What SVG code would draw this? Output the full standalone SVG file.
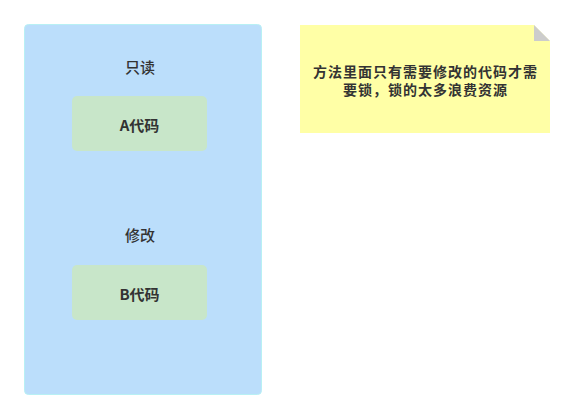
<svg xmlns="http://www.w3.org/2000/svg" width="575" height="419" viewBox="0 0 575 419">
<style>
text{font-family:"Noto Sans CJK SC","Liberation Sans",sans-serif;fill:#333;text-anchor:middle;dominant-baseline:central}
.code{fill:#c8e6c9;stroke:none}
.b{font-weight:bold;font-size:15px}
.lbl{font-size:15px;font-weight:500}
.note{font-size:14px;font-weight:bold;letter-spacing:1px}
</style>
<rect width="575" height="419" fill="#fff"/>
<g id="container">
<rect x="24.5" y="24.5" width="237" height="370" rx="4" fill="#bbdefb" stroke="#b8f0f4" stroke-width="1"/>
<text class="lbl" x="140" y="66.5">只读</text>
<text class="lbl" x="140" y="234">修改</text>
</g>
<g id="nodeA">
<rect class="code" x="72" y="96" width="135" height="55" rx="5"/>
<text class="b" x="139.5" y="124.5">A代码</text>
</g>
<g id="nodeB">
<rect class="code" x="72" y="265" width="135" height="55" rx="5"/>
<text class="b" x="139.5" y="293.5">B代码</text>
</g>
<g id="note">
<path d="M300 25 H534 L550 41 V133 H300 Z" fill="#ffffa6"/>
<path d="M534 25 V41 H550 Z" fill="#ccc"/>
<text class="note" x="425.5" y="70.5"><tspan x="425.5">方法里面只有需要修改的代码才需</tspan><tspan x="425.5" dy="18">要锁，锁的太多浪费资源</tspan></text>
</g>
<g id="connectors"/>
</svg>
